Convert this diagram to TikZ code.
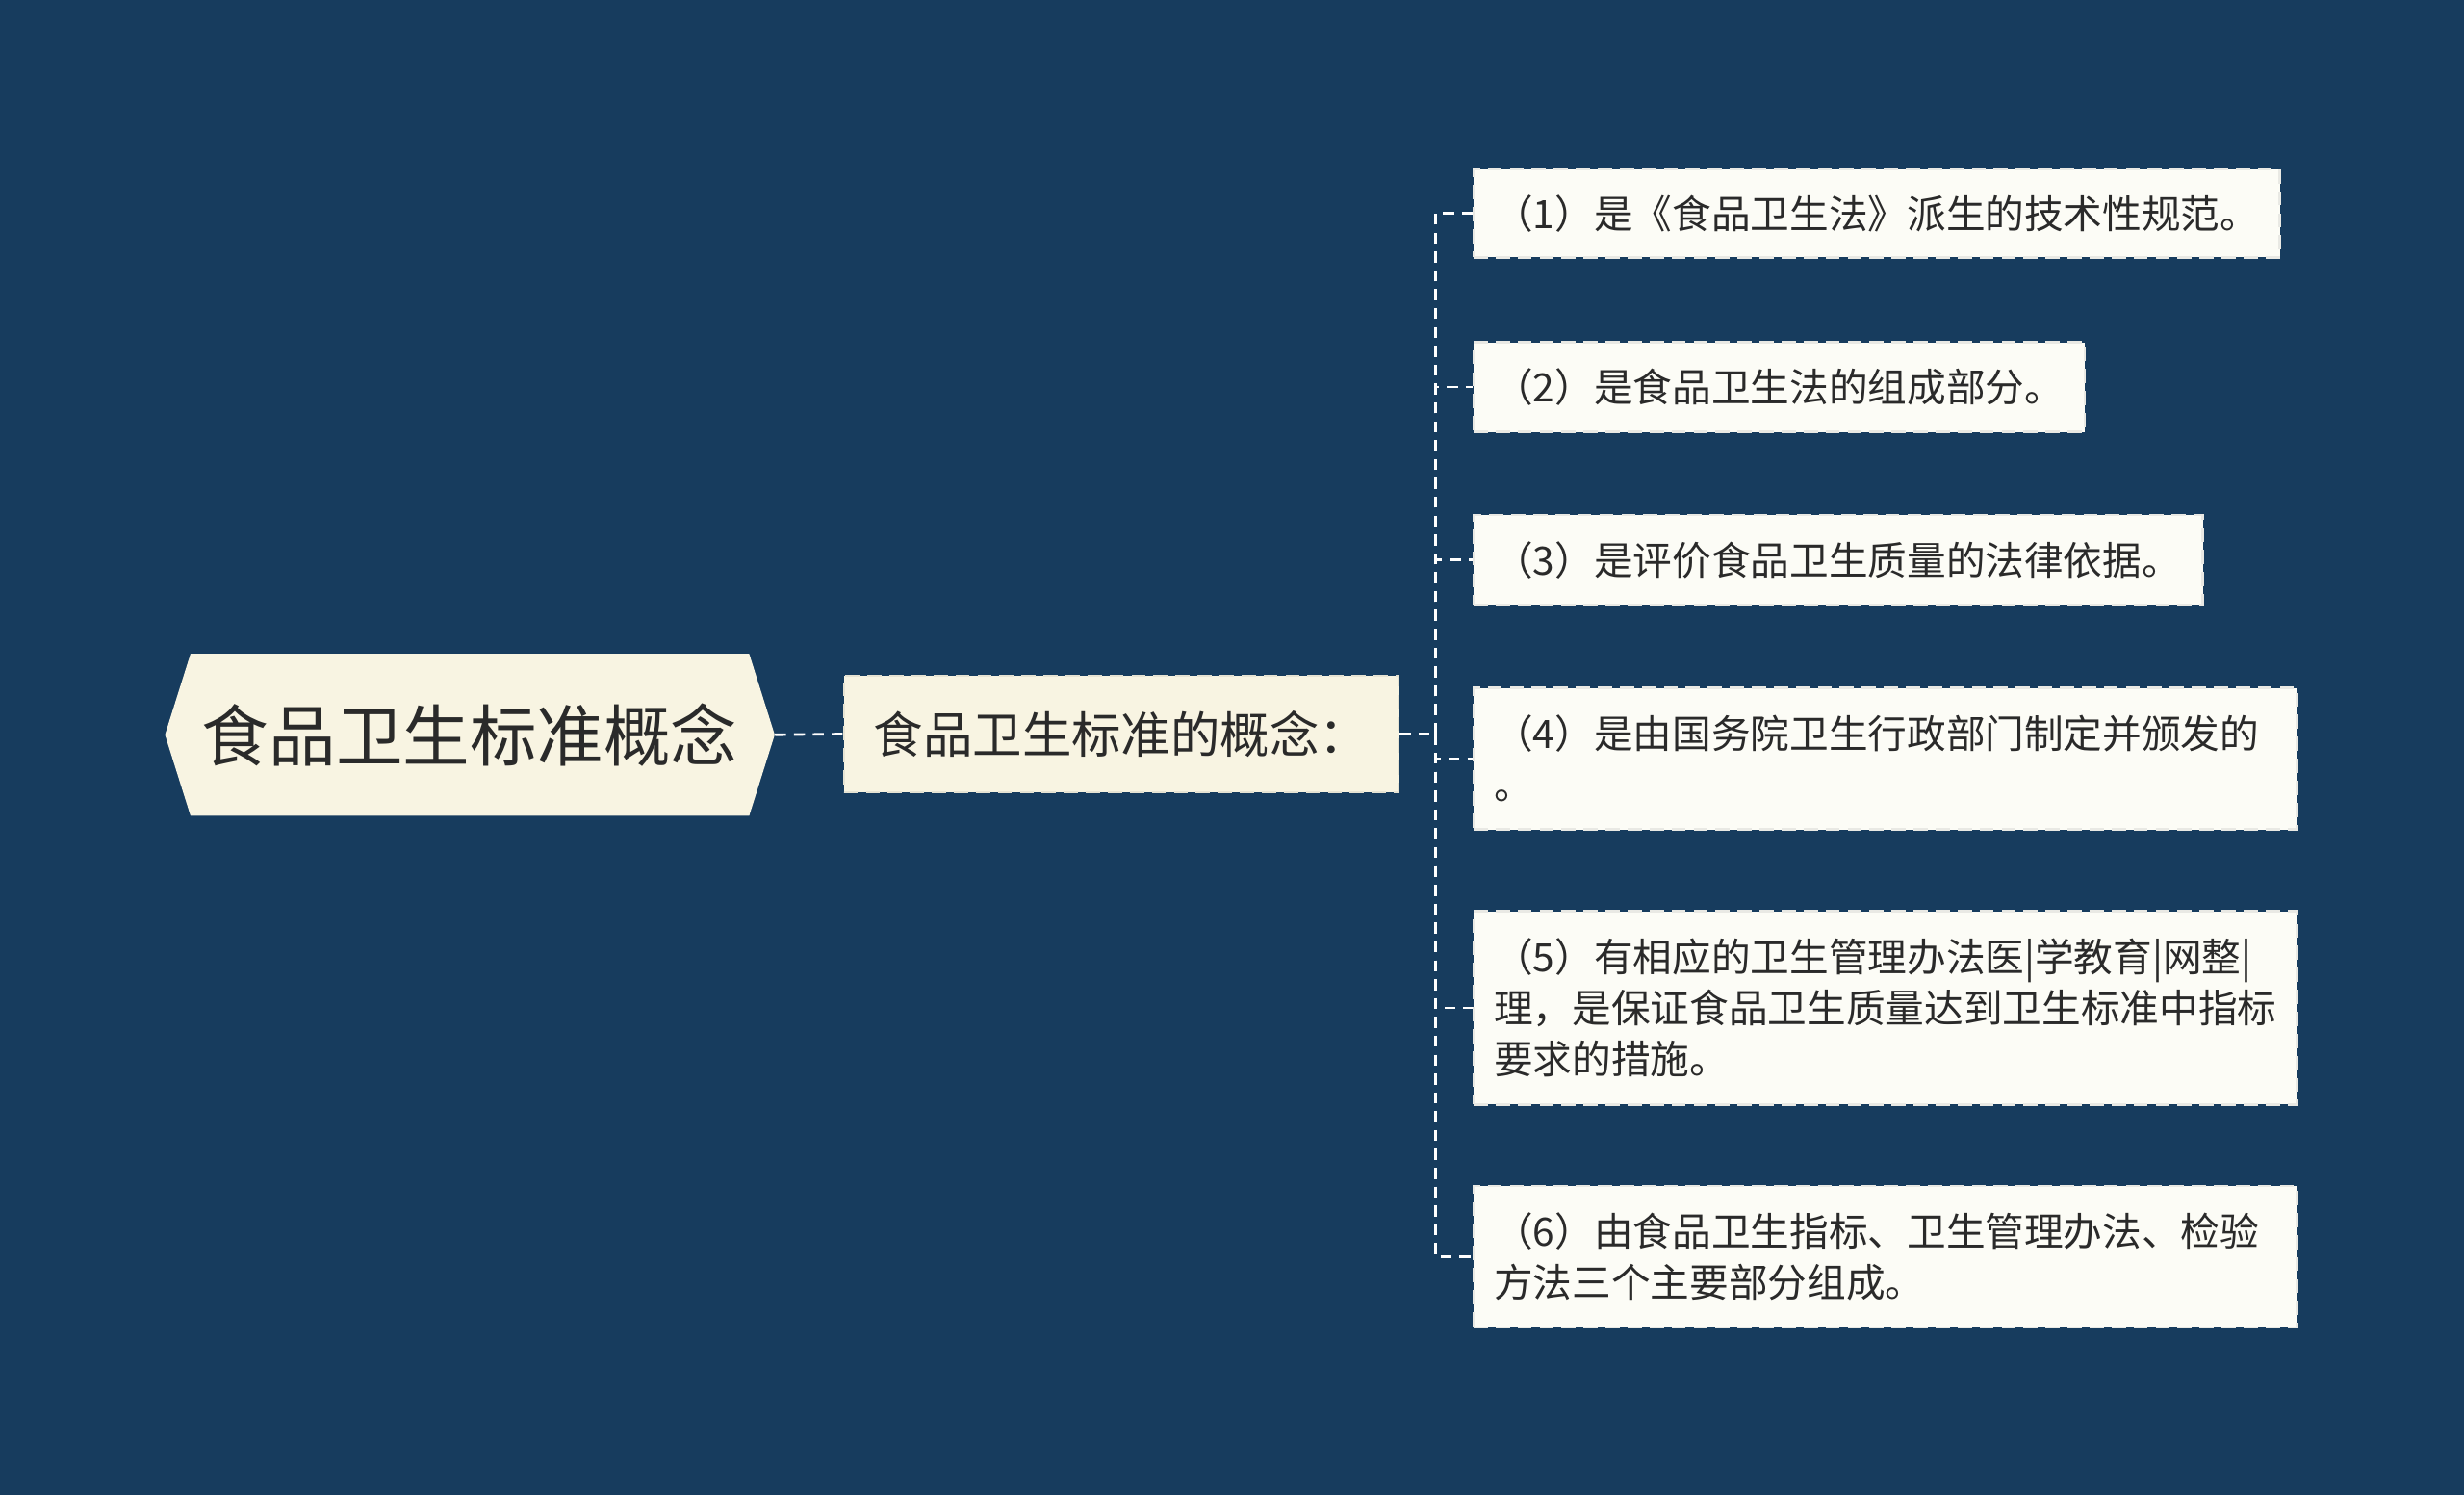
\documentclass[tikz,border=0pt]{standalone}
\usepackage{fontspec}
\setmainfont{Noto Sans CJK SC}
\usetikzlibrary{shapes.symbols}

\definecolor{navybg}{HTML}{173C5E}
\definecolor{creamfill}{HTML}{F8F4E2}
\definecolor{leaffill}{HTML}{FCFCF6}
\definecolor{inkdark}{HTML}{2A2A2A}

\tikzset{
    rootnode/.style={shape=signal, signal to=west and east, signal pointer angle=145,
        fill=creamfill, minimum width=388pt, minimum height=103pt, inner sep=0pt,
        text=inkdark, font=\fontsize{42.6}{50}\selectfont},
    topicnode/.style={rectangle, fill=creamfill, minimum width=353pt, minimum height=74pt,
        inner sep=0pt, text=inkdark, font=\fontsize{31.5}{38}\selectfont,
        preaction={draw=navybg, line width=2pt},
        draw=creamfill!85!gray, line width=1.5pt, dash pattern=on 9pt off 5pt},
    leafnode/.style={rectangle, anchor=north west, fill=leaffill, inner xsep=13pt, inner ysep=0pt,
        align=left, text=inkdark, font=\fontsize{24.9}{32.5}\selectfont,
        preaction={draw=navybg, line width=2pt},
        draw=leaffill!85!gray, line width=1.5pt, dash pattern=on 9pt off 5pt},
    link/.style={draw=white, line width=1.6pt, dash pattern=on 7pt off 5pt}
}

\begin{document}
\begin{tikzpicture}[x=1pt, y=-1pt]
    % background
    \fill[navybg] (0,0) rectangle (1568,951);

    % root and topic
    \node[rootnode] (root) at (299,467.5) {食品卫生标准概念};
    \node[topicnode] (topic) at (713.5,467) {食品卫生标准的概念：};

    % leaves
    \node[leafnode, text width=487pt, minimum height=56pt] (leaf1) at (937,107)
        {（1）是《食品卫生法》派生的技术性规范。};
    \node[leafnode, text width=363pt, minimum height=57pt] (leaf2) at (937,217)
        {（2）是食品卫生法的组成部分。};
    \node[leafnode, text width=438pt, minimum height=57pt] (leaf3) at (937,327)
        {（3）是评价食品卫生质量的法律依据。};
    \node[leafnode, text width=498pt, minimum height=90pt] (leaf4) at (937,437)
        {（4）是由国务院卫生行政部门制定并颁发的\\。};
    \node[leafnode, text width=498pt, minimum height=123pt] (leaf5) at (937,579)
        {（5）有相应的卫生管理办法医|学教育|网整|\\理，是保证食品卫生质量达到卫生标准中指标\\要求的措施。};
    \node[leafnode, text width=498pt, minimum height=90pt] (leaf6) at (937,754)
        {（6）由食品卫生指标、卫生管理办法、检验\\方法三个主要部分组成。};

    % connectors
    \coordinate (trunk) at (913.5,467);
    \draw[link] (root.east) -- (topic.west);
    \draw[link] (topic.east) -- (trunk);
    \draw[link] (trunk) |- (leaf1.west);
    \draw[link] (trunk) |- (leaf2.west);
    \draw[link] (trunk) |- (leaf3.west);
    \draw[link] (trunk) |- (leaf4.west);
    \draw[link] (trunk) |- (leaf5.west);
    \draw[link] (trunk) |- (leaf6.west);
\end{tikzpicture}
\end{document}
